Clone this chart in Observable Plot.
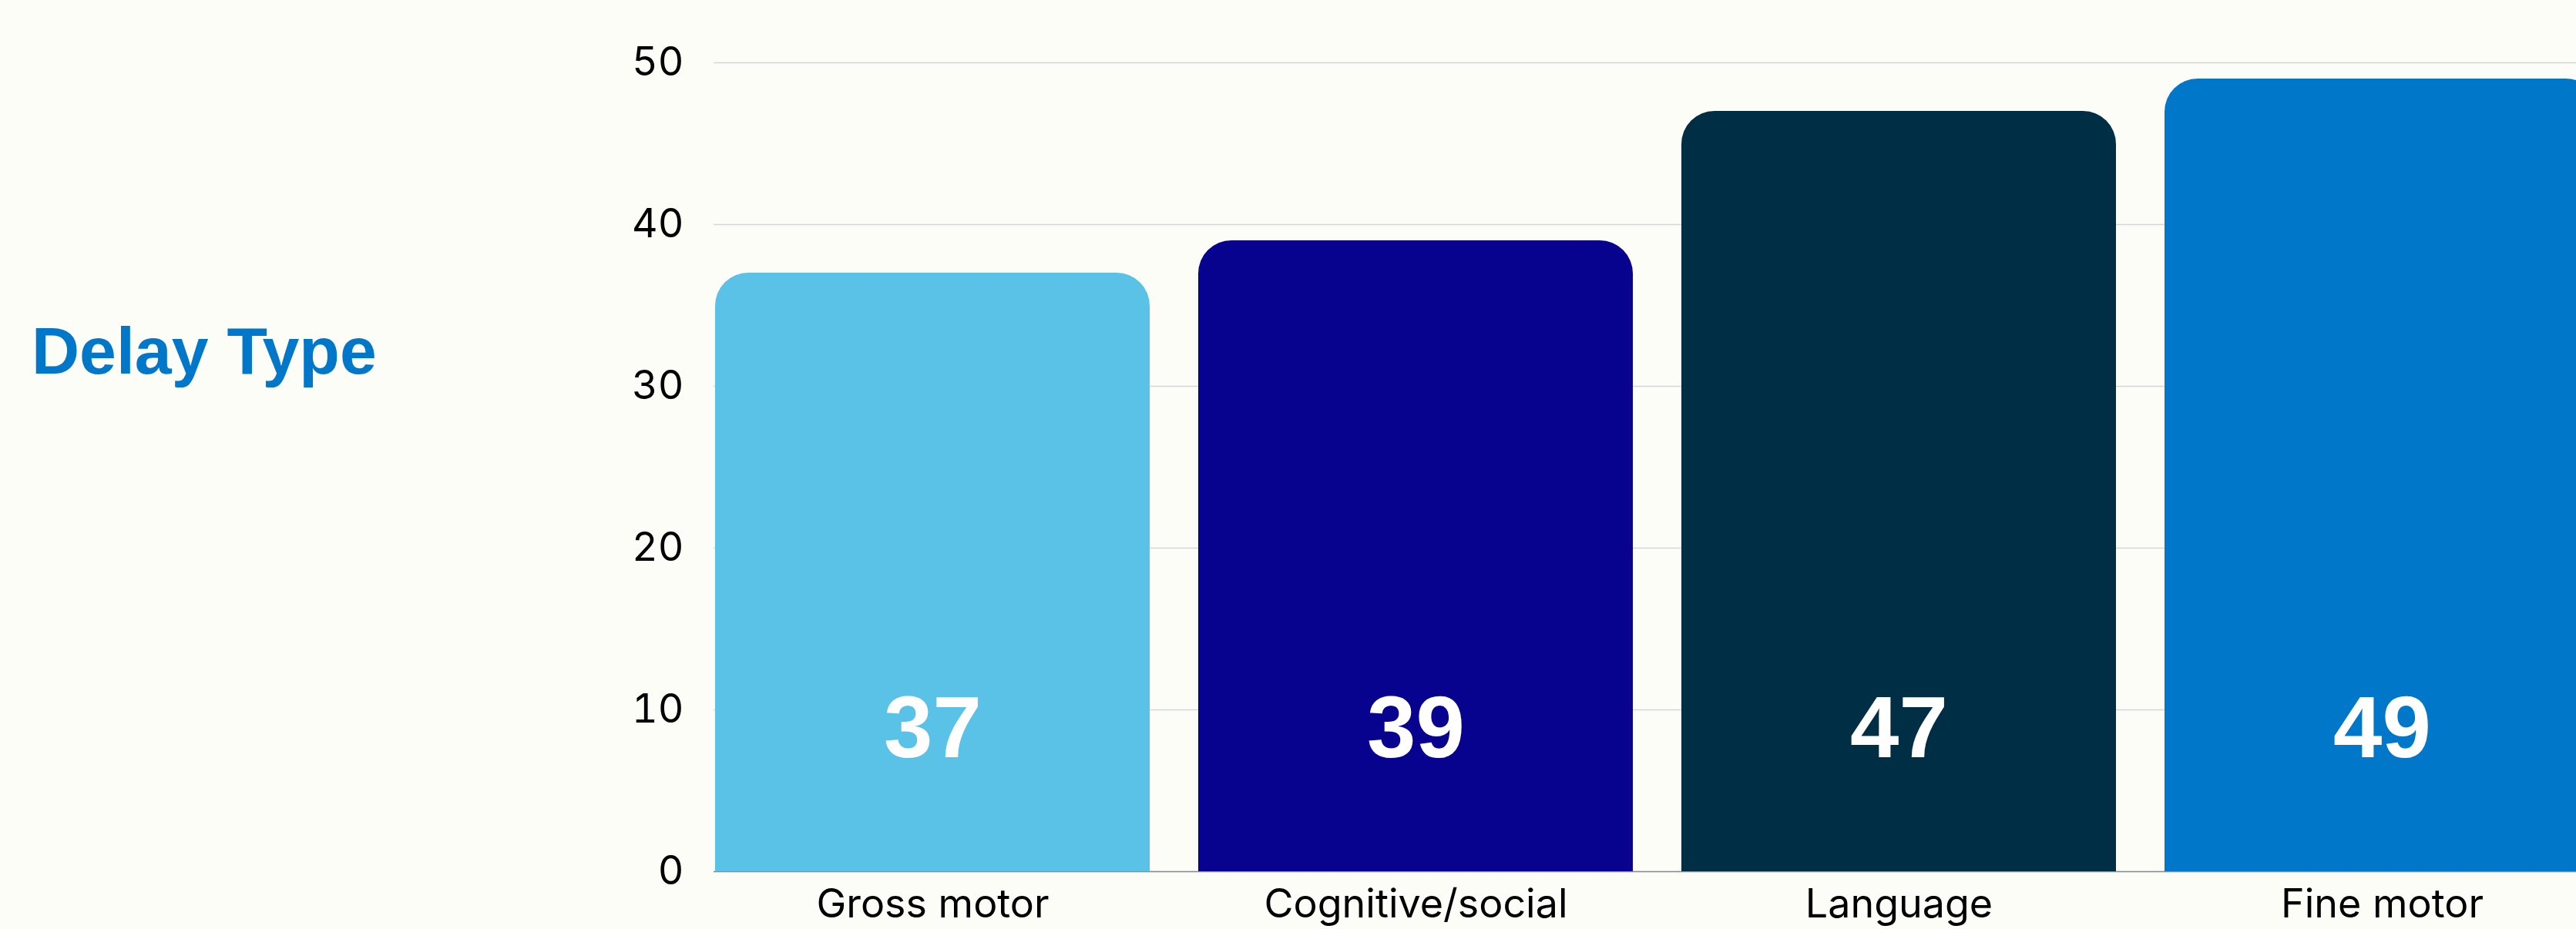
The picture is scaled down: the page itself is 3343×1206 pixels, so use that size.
<!DOCTYPE html>
<html><head><meta charset="utf-8">
<script src="https://cdn.jsdelivr.net/npm/d3@7"></script>
<script src="https://cdn.jsdelivr.net/npm/@observablehq/plot@0.6"></script>
<style>
html,body{margin:0;padding:0;background:#fdfdf8;overflow:hidden;width:3343px;height:1206px}
#wrap{position:relative;width:3343px;height:1206px;overflow:hidden}
#title{position:absolute;left:41px;top:412px;font-family:"Liberation Sans",Arial,sans-serif;font-weight:bold;font-size:86px;line-height:1;color:#0077c8;margin:0;white-space:nowrap}
#chart{position:absolute;left:0;top:0;width:3375px}
#chart svg{max-width:none !important}
</style></head><body>
<div id="wrap"><h1 id="title">Delay Type</h1><div id="chart"></div></div>
<script>
const categories = ["Gross motor", "Cognitive/social", "Language", "Fine motor"];
const values = [37, 39, 47, 49];
const barColors = ["#5bc2e7", "#08038f", "#002e44", "#0077c8"];
const yTicks = [0, 10, 20, 30, 40, 50];
const data = categories.map((c, i) => ({category: c, value: values[i]}));

const chart = Plot.plot({
  width: 3375,
  height: 1206,
  marginLeft: 926,
  marginRight: 0,
  marginTop: 81,
  marginBottom: 75,
  style: {background: "transparent", fontFamily: 'Inter, sans-serif', fontSize: "52px", color: "#000", maxWidth: "none"},
  x: {domain: categories, paddingInner: 0.1, paddingOuter: 0, label: null},
  y: {domain: [0, 50], label: null},
  color: {type: "ordinal", domain: categories, range: barColors},
  marks: [
    Plot.gridY(yTicks, {stroke: "#d6d6d6", strokeOpacity: 1, strokeWidth: 1.5}),
    Plot.ruleY([0], {stroke: "#8c8c8c", strokeWidth: 1.5}),
    Plot.barY(data, {x: "category", y: "value", fill: "category", ry1: 43}),
    Plot.text(data, {x: "category", text: d => String(d.value), frameAnchor: "bottom", lineAnchor: "bottom", dy: -149,
      fill: "white", fontSize: 114, fontWeight: "bold", fontFamily: '"Liberation Sans", Arial, sans-serif'}),
    Plot.axisY(yTicks, {tickSize: 0, tickPadding: 39, fontSize: 52, fontFamily: "Inter, sans-serif", label: null}),
    Plot.axisX({tickSize: 0, tickPadding: 23, fontSize: 52, fontFamily: "Inter, sans-serif", label: null})
  ]
});
document.getElementById("chart").appendChild(chart);
</script>
</body></html>
